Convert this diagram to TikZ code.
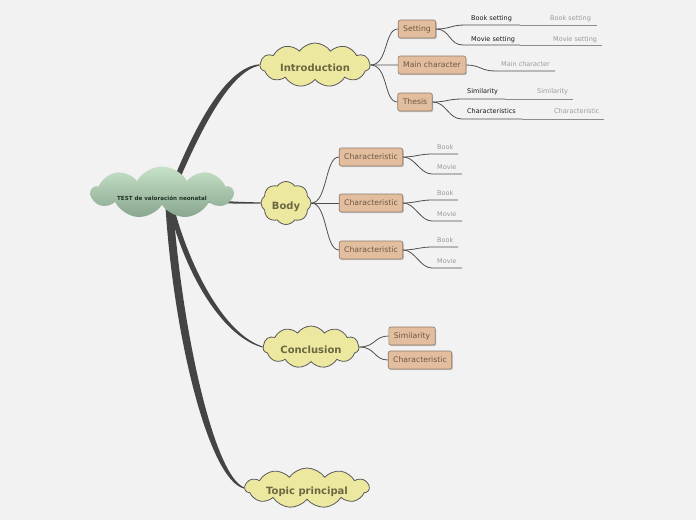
\documentclass[tikz,border=0pt]{standalone}
\usepackage{fontspec}
\setmainfont{DejaVu Sans}
\usetikzlibrary{shapes.symbols,shadows}
\pgfdeclarelayer{background}
\pgfsetlayers{background,main}

\definecolor{paper}{HTML}{F2F2F2}
\definecolor{topicfill}{HTML}{ECE8A0}
\definecolor{topictext}{HTML}{6A6840}
\definecolor{boxfill}{HTML}{E2BE9E}
\definecolor{boxline}{HTML}{8E7A6A}
\definecolor{boxtext}{HTML}{6E5646}
\definecolor{rootlight}{HTML}{C6E2C8}
\definecolor{rootdark}{HTML}{88A68E}
\definecolor{roottext}{HTML}{1F3322}
\definecolor{branchgray}{HTML}{444444}
\definecolor{linkgray}{HTML}{505050}
\definecolor{notegray}{HTML}{9A9A9A}

\tikzset{
  topic/.style={cloud, cloud puffs=11, cloud puff arc=110, cloud ignores aspect,
    draw=black!65, line width=0.8pt, fill=topicfill, text=topictext,
    font=\fontsize{10}{12}\selectfont\bfseries, inner sep=0pt,
    text height=13pt, text depth=0pt},
  subbox/.style={rectangle, rounded corners=2pt, draw=boxline, line width=0.6pt,
    fill=boxfill, text=boxtext, font=\fontsize{7.7}{9}\selectfont,
    minimum height=18pt, inner xsep=5pt, inner ysep=0pt,
    drop shadow={shadow xshift=1pt, shadow yshift=-1.2pt, fill=black!35, opacity=0.6}},
  branch/.style={fill=branchgray},
  link/.style={draw=linkgray, line width=0.8pt},
  notelink/.style={draw=black!45, line width=0.8pt},
  leaf/.style={anchor=base west, inner sep=0pt, text=black!90, font=\fontsize{6.5}{8}\selectfont},
  note/.style={leaf, text=notegray},
}

\begin{document}
\begin{tikzpicture}[x=1pt,y=-1pt]
\begin{pgfonlayer}{background}
\fill[paper] (0,0) rectangle (696,520);
\end{pgfonlayer}
\useasboundingbox (0,0) rectangle (696,520);

% central topic
\node[cloud, cloud puffs=9, cloud puff arc=120, cloud ignores aspect,
  minimum width=142pt, minimum height=52pt, inner sep=0pt,
  top color=rootlight, bottom color=rootdark, text=roottext,
  font=\fontsize{5.6}{7}\selectfont\bfseries] (root) at (162,192.5)
  {\raisebox{-7.5pt}[0pt][0pt]{TEST de valoración neonatal}};
\coordinate (hub) at (169,198);

% main topics
\node[topic, minimum width=110pt, minimum height=44pt] (intro) at (315,65) {Introduction};
\node[topic, cloud puffs=8, minimum width=50pt, minimum height=43pt] (body) at (286,203) {Body};
\node[topic, minimum width=96pt, minimum height=42pt] (concl) at (311,347) {Conclusion};
\node[topic, minimum width=124pt, minimum height=40pt] (topicp) at (307,488) {Topic principal};

\begin{pgfonlayer}{background}
\fill[branch] ([xshift=-2.8pt]hub) .. controls (197,118) and (228,67) .. ([yshift=0.7pt]intro.west)
  -- ([yshift=-0.5pt]intro.west) .. controls (232,71) and (203,122) .. ([xshift=2.8pt]hub) -- cycle;
\fill[branch] ([yshift=1.3pt]hub) .. controls (200,200) and (235,202) .. ([yshift=0.6pt]body.west)
  -- ([yshift=-0.6pt]body.west) .. controls (235,204) and (200,203) .. ([yshift=-1.3pt]hub) -- cycle;
\fill[branch] ([xshift=-2.4pt]hub) .. controls (182,268) and (220,336) .. ([yshift=-0.5pt]concl.west)
  -- ([yshift=0.5pt]concl.west) .. controls (224,334) and (188,266) .. ([xshift=2.4pt]hub) -- cycle;
\fill[branch] ([xshift=-4pt]hub) .. controls (172,330) and (208,480) .. ([yshift=-0.6pt]topicp.west)
  -- ([yshift=0.6pt]topicp.west) .. controls (214,476) and (181,328) .. ([xshift=3.5pt]hub) -- cycle;
\end{pgfonlayer}

% subtopics
\node[subbox] (setting) at (417,29) {Setting};
\node[subbox] (mainchar) at (432,65) {Main character};
\node[subbox] (thesis) at (415,102) {Thesis};
\node[subbox] (char1) at (371,157) {Characteristic};
\node[subbox] (char2) at (371,203) {Characteristic};
\node[subbox] (char3) at (371,250) {Characteristic};
\node[subbox] (csim) at (412,336) {Similarity};
\node[subbox] (cchar) at (420,360) {Characteristic};

\draw[link] (intro.east) .. controls +(18,0) and +(-14,0) .. (setting.west);
\draw[link] (intro.east) .. controls +(14,0) and +(-14,0) .. (mainchar.west);
\draw[link] (intro.east) .. controls +(18,0) and +(-14,0) .. (thesis.west);
\draw[link] (body.east) .. controls +(16,0) and +(-14,0) .. (char1.west);
\draw[link] (body.east) .. controls +(14,0) and +(-14,0) .. (char2.west);
\draw[link] (body.east) .. controls +(16,0) and +(-14,0) .. (char3.west);
\draw[link] (concl.east) .. controls +(16,0) and +(-14,0) .. (csim.west);
\draw[link] (concl.east) .. controls +(16,0) and +(-14,0) .. (cchar.west);

% setting
\coordinate (bookA) at (465,25); \coordinate (bookB) at (520,25); \coordinate (bookC) at (597,25);
\node[leaf] (booktext) at (471,20.5) {Book setting};
\node[note] (booknote) at (550,20.5) {Book setting};
\draw[link] (setting.east) .. controls +(14,0) and +(-14,0) .. (bookA) -- (bookB);
\draw[notelink] (bookB) -- (bookC);
\coordinate (movieA) at (463,45); \coordinate (movieB) at (520,45); \coordinate (movieC) at (602,45);
\node[leaf] (movietext) at (471,41) {Movie setting};
\node[note] (movienote) at (553,41) {Movie setting};
\draw[link] (setting.east) .. controls +(14,0) and +(-14,0) .. (movieA) -- (movieB);
\draw[notelink] (movieB) -- (movieC);

% main character
\coordinate (mcA) at (495,71); \coordinate (mcB) at (555,71);
\node[note] (mcnote) at (501,66.5) {Main character};
\draw[link] (mainchar.east) .. controls +(14,0) and +(-14,0) .. (mcA) -- (mcB);

% thesis
\coordinate (simA) at (462,99); \coordinate (simB) at (505,99); \coordinate (simC) at (573,99);
\node[leaf] (simtext) at (467,93.5) {Similarity};
\node[note] (simnote) at (537,93.5) {Similarity};
\draw[link] (thesis.east) .. controls +(14,0) and +(-14,0) .. (simA) -- (simB);
\draw[notelink] (simB) -- (simC);
\coordinate (chsA) at (462,119); \coordinate (chsB) at (522,119); \coordinate (chsC) at (604,119);
\node[leaf] (chstext) at (467,113.5) {Characteristics};
\node[note] (chsnote) at (554,113.5) {Characteristic};
\draw[link] (thesis.east) .. controls +(14,0) and +(-14,0) .. (chsA) -- (chsB);
\draw[notelink] (chsB) -- (chsC);

% body details
\coordinate (b1A) at (432,154); \coordinate (b1B) at (458,154);
\node[note] (b1note) at (437,149.5) {Book};
\draw[link] (char1.east) .. controls +(12,0) and +(-12,0) .. (b1A) -- (b1B);
\coordinate (m1A) at (432,174); \coordinate (m1B) at (462,174);
\node[note] (m1note) at (437,169.5) {Movie};
\draw[link] (char1.east) .. controls +(12,0) and +(-12,0) .. (m1A) -- (m1B);

\coordinate (b2A) at (432,200); \coordinate (b2B) at (458,200);
\node[note] (b2note) at (437,195.5) {Book};
\draw[link] (char2.east) .. controls +(12,0) and +(-12,0) .. (b2A) -- (b2B);
\coordinate (m2A) at (432,221); \coordinate (m2B) at (462,221);
\node[note] (m2note) at (437,216.5) {Movie};
\draw[link] (char2.east) .. controls +(12,0) and +(-12,0) .. (m2A) -- (m2B);

\coordinate (b3A) at (432,247); \coordinate (b3B) at (458,247);
\node[note] (b3note) at (437,242) {Book};
\draw[link] (char3.east) .. controls +(12,0) and +(-12,0) .. (b3A) -- (b3B);
\coordinate (m3A) at (432,268); \coordinate (m3B) at (462,268);
\node[note] (m3note) at (437,263.5) {Movie};
\draw[link] (char3.east) .. controls +(12,0) and +(-12,0) .. (m3A) -- (m3B);
\end{tikzpicture}
\end{document}
